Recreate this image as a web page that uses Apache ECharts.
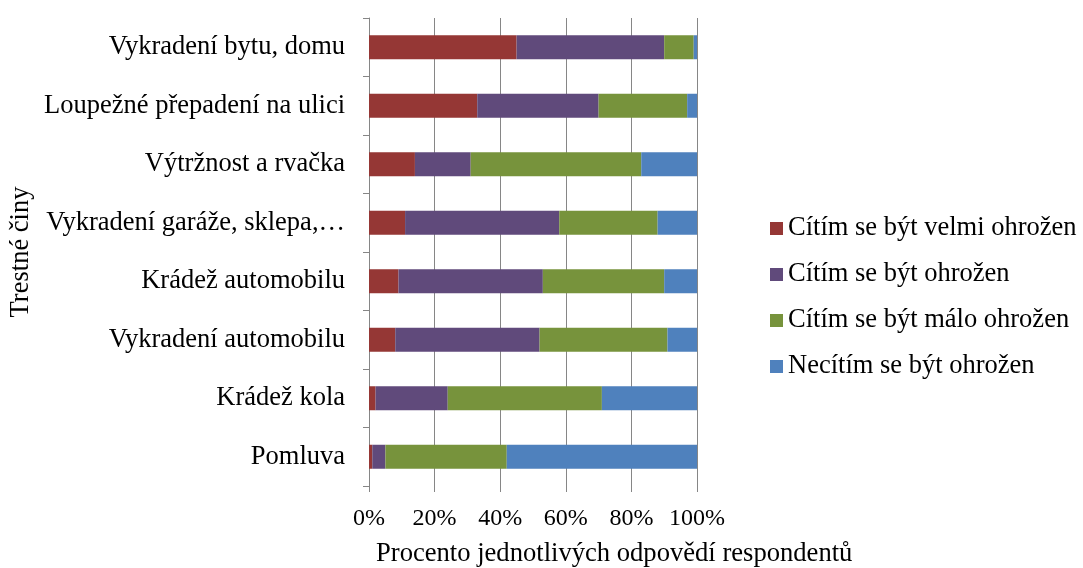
<!DOCTYPE html>
<html><head><meta charset="utf-8">
<script src="https://cdn.jsdelivr.net/npm/echarts@6/dist/echarts.min.js"></script>
<style>html,body{margin:0;padding:0;background:#fff}#c{width:1083px;height:568px}</style>
</head><body><div id="c"></div>
<script>
const categories = ["Vykradení bytu, domu","Loupežné přepadení na ulici","Výtržnost a rvačka","Vykradení garáže, sklepa,…","Krádež automobilu","Vykradení automobilu","Krádež kola","Pomluva"];
const seriesNames = ["Cítím se být velmi ohrožen","Cítím se být ohrožen","Cítím se být málo ohrožen","Necítím se být ohrožen"];
const velmi = [45,33,14,11,9,8,2,1];
const ohrozen = [45,37,17,47,44,44,22,4];
const malo = [9,27,52,30,37,39,47,37];
const neciti = [1,3,17,12,10,9,29,58];
const xTicks = [0,20,40,60,80,100];
const colors = ["#953735","#604A7B","#77933C","#4F81BD"];
const font = "Liberation Serif";
const chart = echarts.init(document.getElementById('c'));
const dataSets = [velmi, ohrozen, malo, neciti];
chart.setOption({
  animation:false,
  color: colors,
  textStyle:{fontFamily:font,color:'#000'},
  grid:{left:369,right:386,top:18,bottom:82},
  title:{text:'Procento jednotlivých odpovědí respondentů',left:376,top:541,padding:0,
    textStyle:{fontFamily:font,fontSize:26.6,fontWeight:'normal',color:'#000'}},
  legend:{orient:'vertical',left:765,top:210,itemWidth:13,itemHeight:13,itemGap:19,icon:'rect',
    textStyle:{fontFamily:font,fontSize:26.5,color:'#000'},data:seriesNames},
  xAxis:{type:'value',min:xTicks[0],max:xTicks[xTicks.length-1],interval:20,
    axisLabel:{formatter:'{value}%',fontFamily:font,fontSize:24,color:'#000',margin:21},
    axisLine:{show:false},
    axisTick:{show:true,length:6,lineStyle:{color:'#868686'}},
    splitLine:{show:true,lineStyle:{color:'#868686',width:1}}},
  yAxis:{type:'category',data:categories,inverse:true,
    axisLine:{show:true,lineStyle:{color:'#868686'}},
    axisTick:{show:true,length:6,lineStyle:{color:'#868686'}},
    axisLabel:{fontFamily:font,fontSize:26.5,color:'#000',margin:24},
    name:'Trestné činy',nameLocation:'middle',nameGap:334,
    nameTextStyle:{fontFamily:font,fontSize:26.5,color:'#000'}},
  series: seriesNames.map((n,i)=>({name:n,type:'bar',stack:'a',barWidth:24,data:dataSets[i],
    itemStyle:{color:colors[i]}}))
});
</script></body></html>
